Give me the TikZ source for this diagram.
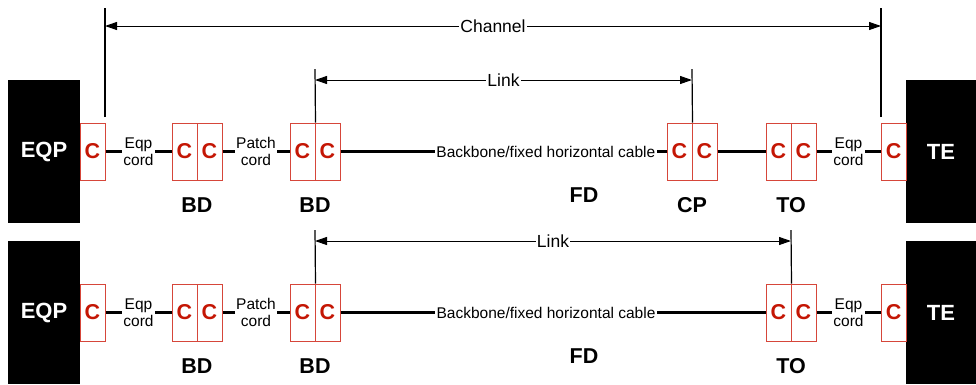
\documentclass[tikz,border=0pt]{standalone}
\usepackage{fontspec}
\setmainfont{Liberation Sans}
\usetikzlibrary{arrows.meta}
\definecolor{boxred}{RGB}{214,70,58}
\definecolor{cred}{RGB}{196,22,4}
\tikzset{
  cbox/.style={draw=boxred, line width=1pt, minimum width=25pt, minimum height=57pt, inner sep=0pt,
    text=cred, font=\fontsize{21.5}{24}\selectfont\bfseries},
  device/.style={fill=black, draw=none, inner sep=0pt, text=white, font=\fontsize{22}{26}\selectfont\bfseries},
  cable/.style={line width=2.2pt},
  lbl/.style={fill=white, inner sep=1.5pt, align=center, font=\fontsize{15.5}{17.5}\selectfont},
  big/.style={font=\fontsize{21.5}{24}\selectfont\bfseries, inner sep=0pt},
  dim/.style={line width=1pt, {Triangle[length=12pt,width=8pt]}-{Triangle[length=12pt,width=8pt]}},
  dimlbl/.style={fill=white, inner sep=1pt, font=\fontsize{17.5}{20}\selectfont},
  tick/.style={line width=1.2pt}
}
\begin{document}
\begin{tikzpicture}[x=1pt,y=-1pt]
\useasboundingbox (0,0) rectangle (976,384);
% ---------------- top row ----------------
\node[device, minimum width=72pt, minimum height=143pt] (eqpA) at (44,151.5) {EQP};
\node[device, minimum width=70pt, minimum height=143pt] (teA) at (941,151.5) {TE};
\node[cbox] (cA1) at (92.5,151.5) {C};
\node[cbox] (bdA1l) at (184.5,151.5) {C};
\node[cbox] (bdA1r) at (209.5,151.5) {C};
\node[cbox] (bdA2l) at (302.5,151.5) {C};
\node[cbox] (bdA2r) at (327.5,151.5) {C};
\node[cbox] (cpAl) at (679.5,151.5) {C};
\node[cbox] (cpAr) at (704.5,151.5) {C};
\node[cbox] (toAl) at (778.5,151.5) {C};
\node[cbox] (toAr) at (803.5,151.5) {C};
\node[cbox] (cA2) at (893.5,151.5) {C};
\draw[cable] (cA1.east) -- node[lbl]{Eqp\\cord} (bdA1l.west);
\draw[cable] (bdA1r.east) -- node[lbl]{Patch\\cord} (bdA2l.west);
\draw[cable] (bdA2r.east) -- node[lbl, pos=0.63]{Backbone/fixed horizontal cable} (cpAl.west);
\draw[cable] (cpAr.east) -- (toAl.west);
\draw[cable] (toAr.east) -- node[lbl]{Eqp\\cord} (cA2.west);
\node[big] (bdA1lab) at (197,205) {BD};
\node[big] (bdA2lab) at (315,205) {BD};
\node[big] (fdA) at (584,195) {FD};
\node[big] (cpA) at (692,205) {CP};
\node[big] (toA) at (791,205) {TO};
% channel
\coordinate (chLt) at (105,8);
\coordinate (chLb) at (105,117);
\coordinate (chRt) at (881,8);
\coordinate (chRb) at (881,117);
\coordinate (chLa) at (105,26);
\coordinate (chRa) at (881,26);
\draw[tick] (chLb) -- (chLt);
\draw[tick] (chRb) -- (chRt);
\draw[dim] (chLa) -- node[dimlbl]{Channel} (chRa);
% link top
\coordinate (lkAL) at (315,69);
\coordinate (lkAR) at (692,69);
\coordinate (lkALa) at (315,80);
\coordinate (lkARa) at (692,80);
\draw[tick] (bdA2l.north east) -- (lkAL);
\draw[tick] (cpAl.north east) -- (lkAR);
\draw[dim] (lkALa) -- node[dimlbl]{Link} (lkARa);
% ---------------- bottom row ----------------
\node[device, minimum width=72pt, minimum height=143pt] (eqpB) at (44,312.5) {EQP};
\node[device, minimum width=70pt, minimum height=143pt] (teB) at (941,312.5) {TE};
\node[cbox] (cB1) at (92.5,312.5) {C};
\node[cbox] (bdB1l) at (184.5,312.5) {C};
\node[cbox] (bdB1r) at (209.5,312.5) {C};
\node[cbox] (bdB2l) at (302.5,312.5) {C};
\node[cbox] (bdB2r) at (327.5,312.5) {C};
\node[cbox] (toBl) at (778.5,312.5) {C};
\node[cbox] (toBr) at (803.5,312.5) {C};
\node[cbox] (cB2) at (893.5,312.5) {C};
\draw[cable] (cB1.east) -- node[lbl]{Eqp\\cord} (bdB1l.west);
\draw[cable] (bdB1r.east) -- node[lbl]{Patch\\cord} (bdB2l.west);
\draw[cable] (bdB2r.east) -- node[lbl, pos=0.4836]{Backbone/fixed horizontal cable} (toBl.west);
\draw[cable] (toBr.east) -- node[lbl]{Eqp\\cord} (cB2.west);
\node[big] (bdB1lab) at (197,366) {BD};
\node[big] (bdB2lab) at (315,366) {BD};
\node[big] (fdB) at (584,356) {FD};
\node[big] (toB) at (791,366) {TO};
% link bottom
\coordinate (lkBL) at (315,230);
\coordinate (lkBR) at (791,230);
\coordinate (lkBLa) at (315,241);
\coordinate (lkBRa) at (791,241);
\draw[tick] (bdB2l.north east) -- (lkBL);
\draw[tick] (toBl.north east) -- (lkBR);
\draw[dim] (lkBLa) -- node[dimlbl]{Link} (lkBRa);
\end{tikzpicture}
\end{document}
